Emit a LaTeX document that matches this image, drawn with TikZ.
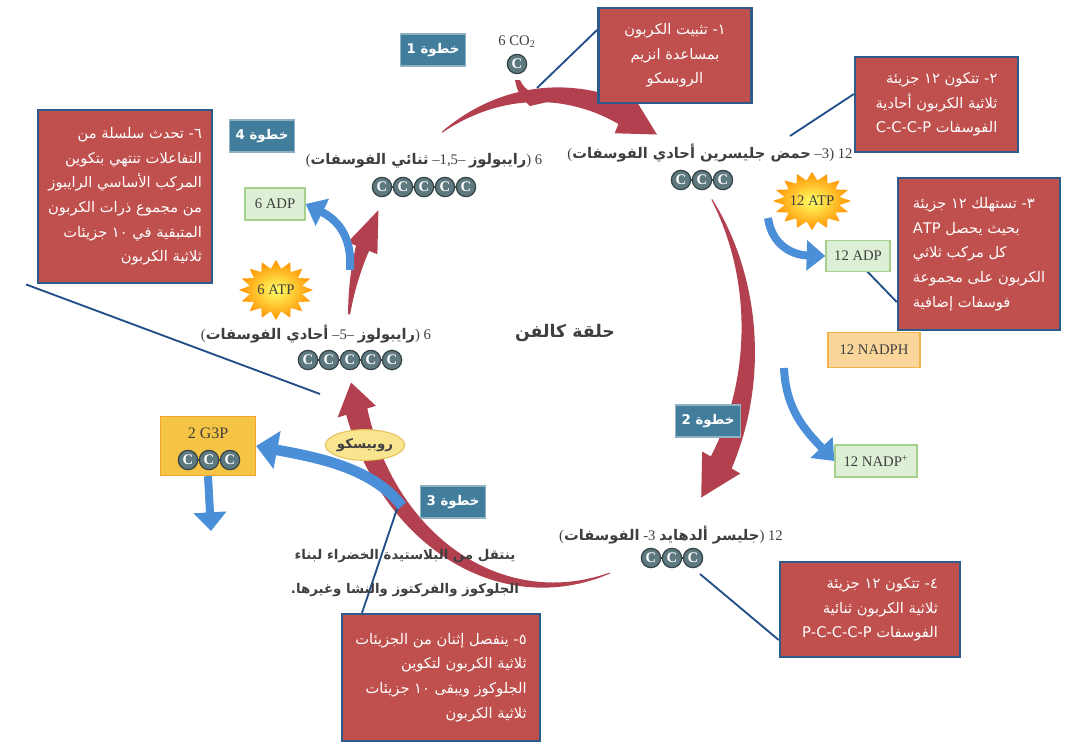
\documentclass[tikz,border=0pt]{standalone}
\usepackage{fontspec}
\setmainfont{Liberation Serif}
\newfontfamily\arabicfont[Script=Arabic]{DejaVu Sans}
\TeXXeTstate=1
\usetikzlibrary{arrows.meta,shapes.geometric}
\newcommand\R[1]{\beginR #1\endR}
\newcommand\arb[1]{{\arabicfont\bfseries\beginR #1\endR}}
\definecolor{boxred}{HTML}{C0504D}
\definecolor{boxblue}{HTML}{2F5A8C}
\definecolor{linkblue}{HTML}{24508A}
\definecolor{cycred}{HTML}{B2404F}
\definecolor{arblue}{HTML}{4A8FD8}
\definecolor{stepteal}{HTML}{427E9C}
\definecolor{cgray}{HTML}{5E7A80}
\definecolor{lblgray}{HTML}{3F3F3F}
\definecolor{adpgreen}{HTML}{DDEFD5}
\definecolor{adpborder}{HTML}{A6D08E}
\definecolor{nadphfill}{HTML}{FAD69A}
\definecolor{nadphborder}{HTML}{F2B24C}
\definecolor{g3pfill}{HTML}{F6C445}
\definecolor{g3pborder}{HTML}{EFA532}
\definecolor{rubfill}{HTML}{F9E58F}
\definecolor{rubborder}{HTML}{E7C25A}
\def\cx{548}\def\cy{340}\def\rx{200}\def\ry{245}
\newcommand\cycarrow[6]{%
\fill[cycred] plot[domain=#1:#2,samples=50] ({\cx+(\rx+(#4+(#5-#4)*(\x-(#1))/((#2)-(#1)))/2)*cos(\x)},{\cy+(\ry+(#4+(#5-#4)*(\x-(#1))/((#2)-(#1)))/2)*sin(\x)})
 -- ({\cx+(\rx+#6/2)*cos(#2)},{\cy+(\ry+#6/2)*sin(#2)})
 -- ({\cx+\rx*cos(#3)},{\cy+\ry*sin(#3)})
 -- ({\cx+(\rx-#6/2)*cos(#2)},{\cy+(\ry-#6/2)*sin(#2)})
 -- plot[domain=#2:#1,samples=50] ({\cx+(\rx-(#4+(#5-#4)*(\x-(#1))/((#2)-(#1)))/2)*cos(\x)},{\cy+(\ry-(#4+(#5-#4)*(\x-(#1))/((#2)-(#1)))/2)*sin(\x)})
 -- cycle;}
\newcommand\starburst[4]{%
\shade[inner color=yellow!60!white, outer color=orange!85!yellow] plot[samples at={0,...,31}] ({#1+ifthenelse(mod(\x,2)==0,#3,0.72*#3)*cos(\x*11.25)},{#2+ifthenelse(mod(\x,2)==0,#4,0.72*#4)*sin(\x*11.25)}) -- cycle;}
\newcommand\chain[4]{%
 \pgfmathsetmacro\chst{#2-(#4-1)*10.5}%
 \foreach \i in {1,...,#4}{\node[cnode] (#1-\i) at ({\chst+(\i-1)*21},#3) {C};}%
 \ifnum#4>1 \pgfmathtruncatemacro\chm{#4-1}%
 \foreach \i [evaluate=\i as \j using int(\i+1)] in {1,...,\chm}{\draw[cbond] (#1-\i) -- (#1-\j);}\fi}
\begin{document}
\begin{tikzpicture}[x=0.75pt,y=-0.75pt,
 redbox/.style={draw=boxblue, line width=1.9pt, fill=boxred, text=white, inner sep=3pt,
   font=\arabicfont\fontsize{11}{18.5}\selectfont},
 stepbox/.style={fill=stepteal, draw=stepteal!60!white, line width=0.8pt, text=white,
   minimum width=49pt, minimum height=24pt, inner sep=1pt, font=\fontsize{10}{12}\selectfont},
 greenbox/.style={fill=adpgreen, draw=adpborder, line width=1pt, text=lblgray, inner sep=1pt,
   font=\fontsize{11}{13}\selectfont},
 lbl/.style={text=lblgray, inner sep=0pt, font=\fontsize{11}{13}\selectfont},
 cnode/.style={circle, fill=cgray, draw=cgray!55!black, line width=0.9pt, text=white, inner sep=0pt,
   minimum size=14.5pt, font=\bfseries\fontsize{11}{11}\selectfont},
 cbond/.style={draw=cgray!55!black, line width=0.9pt},
 link/.style={draw=linkblue, line width=1.4pt},
 bluearrow/.style={draw=arblue, line width=6pt, -{Triangle[length=14pt,width=22pt]}}
]
\useasboundingbox (0,0) rectangle (1066,744);
\fill[white] (0,0) rectangle (1066,744);

% cycle arrows
\cycarrow{-122}{-68}{-57}{1}{24}{44}
\cycarrow{-35}{30}{40}{1}{24}{44}
\cycarrow{72}{163}{170}{1}{22}{40}
\cycarrow{186}{202}{212}{2}{14}{32}
% CO2 funnel
\fill[cycred] (515,80) .. controls (517,92) and (522,99) .. (530,106) -- (556,100) .. controls (538,97) and (525,92) .. (520,80) -- cycle;

% red boxes
\node[redbox, minimum width=115pt, minimum height=71pt, align=center] (box1) at (675,55.5)
 {\R{١- تثبيت الكربون}\\\R{بمساعدة انزيم}\\\R{الروبسكو}};
\node[redbox, minimum width=122pt, minimum height=71pt, align=right] (box2) at (936.5,104.5)
 {\R{٢- تتكون ١٢ جزيئة}\\\R{ثلاثية الكربون أحادية}\\\R{الفوسفات \beginL C-C-C-P\endL}};
\node[redbox, minimum width=121.5pt, minimum height=114pt, align=left] (box3) at (979,254)
 {\R{٣- تستهلك ١٢ جزيئة}\\\R{بحيث يحصل \beginL ATP\endL}\\\R{كل مركب ثلاثي}\\\R{الكربون على مجموعة}\\\R{فوسفات إضافية}};
\node[redbox, minimum width=130.5pt, minimum height=130pt, align=right] (box6) at (125,196.5)
 {\R{٦- تحدث سلسلة من}\\\R{التفاعلات تنتهي بتكوين}\\\R{المركب الأساسي الرايبوز}\\\R{من مجموع ذرات الكربون}\\\R{المتبقية في ١٠ جزيئات}\\\R{ثلاثية الكربون}};
\node[redbox, minimum width=135pt, minimum height=71pt, align=right] (box4) at (870,609.5)
 {\R{٤- تتكون ١٢ جزيئة}\\\R{ثلاثية الكربون ثنائية}\\\R{الفوسفات \beginL P-C-C-C-P\endL}};
\node[redbox, minimum width=148.5pt, minimum height=95pt, align=right] (box5) at (441,677.5)
 {\R{٥- ينفصل إثنان من الجزيئات}\\\R{ثلاثية الكربون لتكوين}\\\R{الجلوكوز ويبقى ١٠ جزيئات}\\\R{ثلاثية الكربون}};

% connectors
\coordinate (l1) at (537,88);
\coordinate (l2) at (790,136);
\coordinate (l3) at (862,266);
\coordinate (l4) at (700,574);
\coordinate (l5) at (400,500);
\coordinate (l6) at (320,394);
\draw[link] (l1) -- (box1.west |- 0,30);
\draw[link] (l2) -- (box2.west |- 0,94);
\draw[link] (l3) -- (box3.west |- 0,302);
\draw[link] (l4) -- (box4.west |- 0,640);
\draw[link] (l5) -- (box5.north west -| 362,0);
\draw[link] (l6) -- (box6.south west -| 26,0);

% labels and carbon chains
\node[lbl] (co2) at (517,42) {6 CO\textsubscript{2}};
\chain{cco}{517}{64}{1}
\node[lbl] (rubp) at (424,161) {(\arb{ثنائي الفوسفات} –1,5– \arb{رايبولوز}) 6};
\chain{crubp}{424}{187}{5}
\node[lbl] (ru5p) at (316,334) {(\arb{أحادي الفوسفات} –5– \arb{رايبولوز}) 6};
\chain{cru5p}{350}{360}{5}
\node[lbl] (pga) at (710,153) {(\arb{حمض جليسرين أحادي الفوسفات} –3) 12};
\chain{cpga}{702}{180}{3}
\node[lbl] (g3p) at (671,535) {(\arb{الفوسفات} -3 \arb{جليسر ألدهايد}) 12};
\chain{cg3p}{672}{558}{3}

\node[font=\arabicfont\bfseries\fontsize{13}{15}\selectfont, text=lblgray] (title) at (565,333) {\R{حلقة كالفن}};

% step boxes
\node[stepbox] (step1) at (433,50) {\arb{خطوة 1}};
\node[stepbox] (step2) at (708,421) {\arb{خطوة 2}};
\node[stepbox] (step3) at (453,502) {\arb{خطوة 3}};
\node[stepbox] (step4) at (262,136) {\arb{خطوة 4}};

% energy carriers
\starburst{812}{201}{39}{29}
\node[lbl] (atp12) at (812,201) {12 ATP};
\starburst{276}{290}{37}{30}
\node[lbl] (atp6) at (276,290) {6 ATP};
\node[greenbox, minimum width=48pt, minimum height=23pt] (adp12) at (858,256) {12 ADP};
\node[greenbox, minimum width=45pt, minimum height=24pt] (adp6) at (275,204) {6 ADP};
\node[greenbox, minimum width=61.5pt, minimum height=24pt] (nadp) at (876,461) {12 NADP\textsuperscript{+}};
\node[fill=nadphfill, draw=nadphborder, line width=1pt, text=lblgray, minimum width=69pt, minimum height=26pt,
 inner sep=1pt, font=\fontsize{11}{13}\selectfont] (nadph) at (874,350) {12 NADPH};

% blue arrows
\coordinate (b1s) at (768,218);
\draw[bluearrow] (b1s) .. controls (772,245) and (792,255) .. (adp12.west);
\coordinate (b2s) at (784,368);
\draw[bluearrow] (b2s) .. controls (786,410) and (805,430) .. (nadp.west);
\coordinate (b3s) at (350,270);
\draw[bluearrow] (b3s) .. controls (352,242) and (342,222) .. (adp6.east);

% G3P box
\node[fill=g3pfill, draw=g3pborder, line width=1.2pt, minimum width=71pt, minimum height=44pt] (g3pbox) at (208,446) {};
\node[lbl, font=\fontsize{12}{14}\selectfont] (g3ptxt) at (208,433) {2 G3P};
\chain{cbox}{209}{460}{3}
\coordinate (b4s) at (402,506);
\draw[draw=arblue, line width=8pt, -{Triangle[length=16pt,width=28pt]}] (b4s) .. controls (372,468) and (320,458) .. (g3pbox.east);
\coordinate (b5e) at (211,531);
\draw[draw=arblue, line width=6pt, -{Triangle[length=14pt,width=24pt]}] (g3pbox.south) -- (b5e);

% rubisco
\node[ellipse, fill=rubfill, draw=rubborder, line width=0.8pt, minimum width=56pt, minimum height=23pt, inner sep=0pt,
 text=lblgray] (rubisco) at (365,445) {\arb{روبيسكو}};

% export text
\node[text=lblgray, font=\fontsize{10}{12}\selectfont] (exp1) at (405,556) {\arb{ينتقل من البلاستيدة الخضراء لبناء}};
\node[text=lblgray, font=\fontsize{10}{12}\selectfont] (exp2) at (405,590) {\arb{الجلوكوز والفركتوز والنشا وغيرها.}};
\end{tikzpicture}
\end{document}
